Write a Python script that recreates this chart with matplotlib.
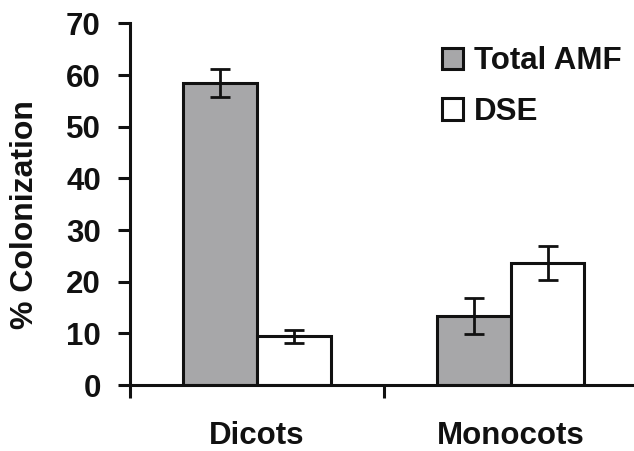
import matplotlib
matplotlib.use("Agg")
import matplotlib.pyplot as plt
import numpy as np

categories = ["Dicots", "Monocots"]
series_names = ["Total AMF", "DSE"]
amf_values = [58.5, 13.3]
amf_errors = [2.7, 3.5]
dse_values = [9.4, 23.7]
dse_errors = [1.2, 3.3]
y_ticks = [0, 10, 20, 30, 40, 50, 60, 70]

plt.rcParams['font.family'] = ['Liberation Sans', 'DejaVu Sans']
plt.rcParams['font.weight'] = 'bold'

fig = plt.figure(figsize=(6.34, 4.51), dpi=100)
ax = fig.add_axes([0.205, 0.1463, 0.795, 0.8017])

x = np.arange(len(categories))
w = 0.29
err_kw = dict(ecolor='#111111', elinewidth=2.0, capsize=7, capthick=2.0)
ax.bar(x - w/2, amf_values, w, yerr=amf_errors, color='#a7a7a9', edgecolor='#111111',
       linewidth=2.2, label=series_names[0], error_kw=err_kw, zorder=2)
ax.bar(x + w/2, dse_values, w, yerr=dse_errors, color='white', edgecolor='#111111',
       linewidth=2.2, label=series_names[1], error_kw=err_kw, zorder=2)

ax.set_ylim(0, 70)
ax.set_xlim(-0.5, 1.485)
ax.set_yticks(y_ticks)
ax.set_yticklabels([str(t) for t in y_ticks], fontsize=22.5, fontweight='bold')
ax.set_xticks([-0.5, 0.5])
ax.set_xticklabels([])
ax.set_xticks(x, minor=True)
ax.set_xticklabels(categories, minor=True, fontsize=22.5, fontweight='bold')
ax.tick_params(axis='x', which='minor', length=0, pad=26)
ax.tick_params(axis='x', which='major', length=9, width=2.2, direction='out', color='#111111')
ax.tick_params(axis='y', length=9, width=2.2, direction='out', color='#111111', pad=12, labelcolor='#111111')
ax.tick_params(axis='x', which='minor', labelcolor='#111111')

for s in ['top', 'right']:
    ax.spines[s].set_visible(False)
for s in ['left', 'bottom']:
    ax.spines[s].set_linewidth(2.2)
    ax.spines[s].set_color('#111111')

ax.set_ylabel('% Colonization', fontsize=23, fontweight='bold', color='#111111', labelpad=19)
ax.yaxis.label.set_y(0.472)

leg = ax.legend(loc='upper left', bbox_to_anchor=(0.697, 0.897), bbox_transform=fig.transFigure,
                frameon=False, fontsize=22.5, handlelength=0.68, handleheight=0.68,
                handletextpad=0.35, labelspacing=0.65, borderaxespad=0, borderpad=0)
for t in leg.get_texts():
    t.set_fontweight('bold')
    t.set_color('#111111')

fig.savefig('out.png', dpi=100)
